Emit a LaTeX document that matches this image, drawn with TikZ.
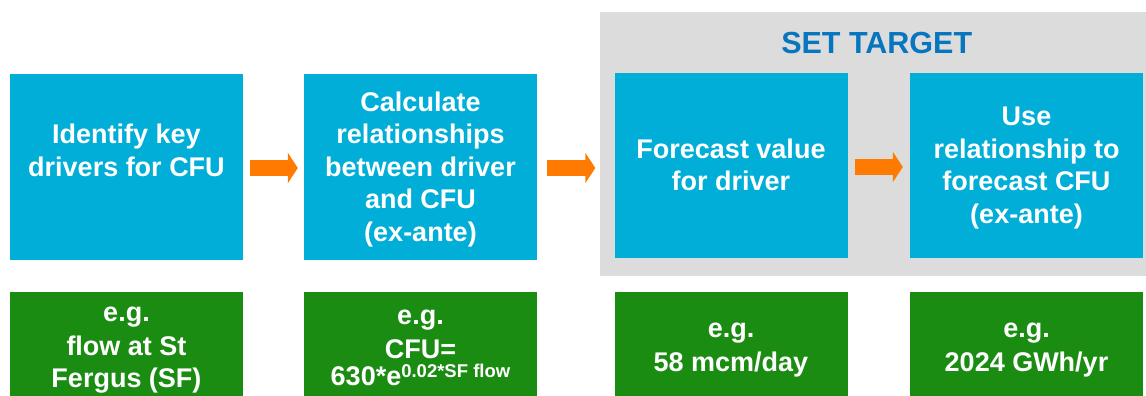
\documentclass[tikz,border=0pt]{standalone}
\usepackage{fontspec}
\setmainfont{Liberation Sans}
\usetikzlibrary{arrows.meta}
\definecolor{boxblue}{RGB}{0,174,216}
\definecolor{boxgreen}{RGB}{27,140,18}
\definecolor{panelgray}{RGB}{220,220,220}
\definecolor{titleblue}{RGB}{8,118,190}
\definecolor{arroworange}{RGB}{255,122,0}
\newcommand\bst{\rule[-7.25pt]{0pt}{32.5pt}}
\newcommand\gst{\rule[-5pt]{0pt}{32pt}}
\begin{document}
\begin{tikzpicture}[x=1pt,y=-1pt,
  stepbox/.style={fill=boxblue, minimum width=233pt, minimum height=185pt, inner sep=0pt,
    text=white, align=center, font=\bfseries\fontsize{27}{32.5}\selectfont},
  egbox/.style={fill=boxgreen, minimum width=233pt, minimum height=104pt, inner sep=0pt,
    text=white, align=center, font=\bfseries\fontsize{27}{32}\selectfont},
  flowarrow/.style={draw=arroworange, line width=16pt, -{Triangle[width=30pt,length=10pt]}}]
\useasboundingbox (0,0) rectangle (1146,396);
% panel
\node[fill=panelgray, minimum width=546pt, minimum height=264pt, inner sep=0pt, anchor=north west] (panel) at (600,12) {};
\node[text=titleblue, font=\bfseries\fontsize{30.5}{36}\selectfont, anchor=base, inner sep=0pt] (title) at (876.7,54) {SET TARGET};
% blue steps
\node[stepbox, minimum height=186pt] (b1) at (126.5,167) {\bst Identify key\\\bst drivers for CFU\\\bst};
\node[stepbox, minimum height=186pt] (b2) at (420.5,167) {\bst Calculate\\\bst relationships\\\bst between driver\\\bst and CFU\\\bst (ex-ante)};
\node[stepbox] (b3) at (731,165.5) {\bst Forecast value\\\bst for driver};
\node[stepbox] (b4) at (1026.5,165.5) {\bst Use\\\bst relationship to\\\bst forecast CFU\\\bst (ex-ante)};
% green examples
\node[egbox] (g1) at (126.5,344) {\gst e.g.\\\gst flow at St\\\gst Fergus (SF)};
\node[egbox] (g2) at (420.5,344) {\gst e.g.\\\gst CFU=\\[-5pt]\gst 630*e\raisebox{8pt}{\fontsize{18.5}{20}\selectfont 0.02*SF flow}};
\node[egbox] (g3) at (731,344) {\gst e.g.\\\gst 58 mcm/day};
\node[egbox] (g4) at (1026.5,344) {\gst e.g.\\\gst 2024 GWh/yr};
% arrows
\draw[flowarrow] ([xshift=7pt,yshift=-1pt]b1.east) -- ([xshift=-6pt,yshift=-1pt]b2.west);
\draw[flowarrow] ([xshift=10pt,yshift=-1pt]b2.east) -- ([xshift=-19pt,yshift=-2.5pt]b3.west);
\draw[flowarrow] ([xshift=7pt,yshift=-1.5pt]b3.east) -- ([xshift=-7pt,yshift=-1.5pt]b4.west);
\end{tikzpicture}
\end{document}
